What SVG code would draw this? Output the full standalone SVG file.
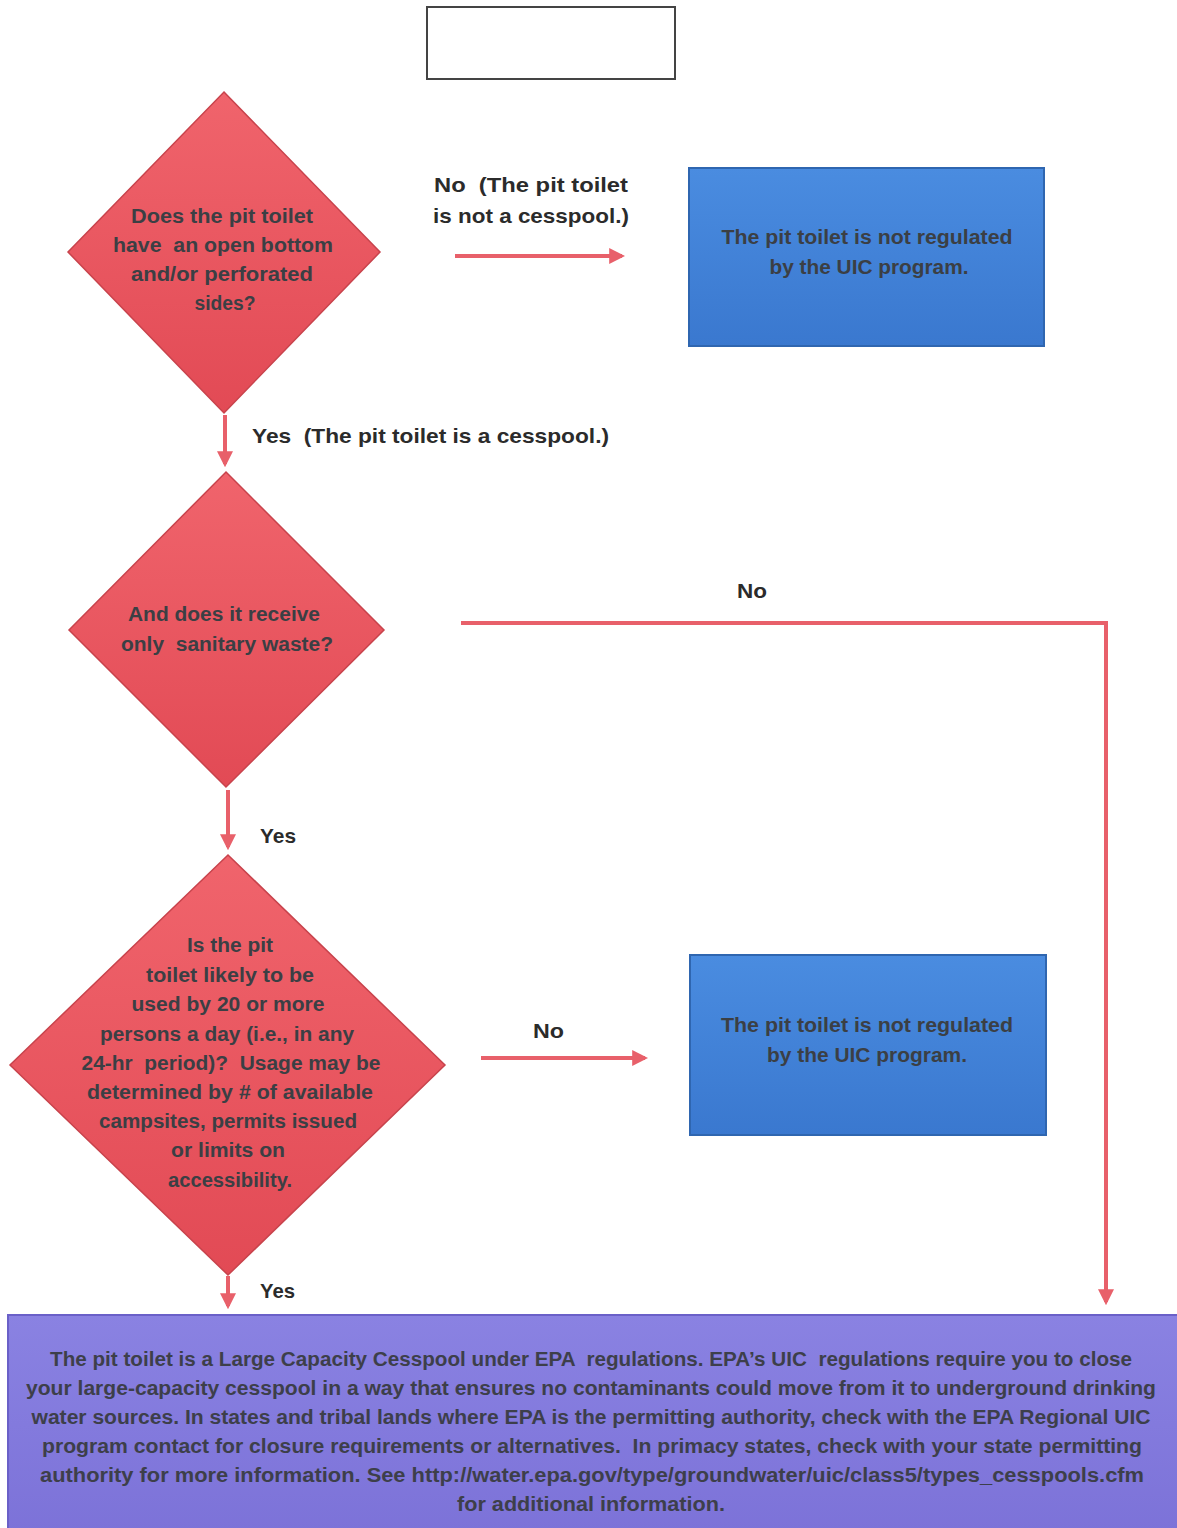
<svg xmlns="http://www.w3.org/2000/svg" width="1177" height="1528" viewBox="0 0 1177 1528">
<style>
.dt{font-family:"Liberation Sans",Arial,sans-serif;font-size:20px;font-weight:bold;fill:#3b3f44;text-anchor:middle}
.bt{font-family:"Liberation Sans",Arial,sans-serif;font-size:20px;font-weight:bold;fill:#3b3f44;text-anchor:middle}
.lb{font-family:"Liberation Sans",Arial,sans-serif;font-size:21px;font-weight:bold;fill:#2b2b2b}
.pt{font-family:"Liberation Sans",Arial,sans-serif;font-size:20px;font-weight:bold;fill:#3d3f4a;text-anchor:middle}
.conn{stroke:#e8606a;stroke-width:4;fill:none}
.dia{fill:url(#red);stroke:#c8434c;stroke-width:1.5}
.blue{fill:url(#blu);stroke:#2f66b0;stroke-width:2}
</style>
<defs>
<linearGradient id="red" x1="0" y1="0" x2="0" y2="1">
<stop offset="0" stop-color="#f0646c"/><stop offset="1" stop-color="#e24a55"/>
</linearGradient>
<linearGradient id="blu" x1="0" y1="0" x2="0" y2="1">
<stop offset="0" stop-color="#4a8ce0"/><stop offset="1" stop-color="#3a78cf"/>
</linearGradient>
<linearGradient id="pur" x1="0" y1="0" x2="0" y2="1">
<stop offset="0" stop-color="#8a82e2"/><stop offset="1" stop-color="#7c72d8"/>
</linearGradient>
<marker id="ah" markerWidth="4" markerHeight="4" refX="3.2" refY="2" orient="auto" markerUnits="strokeWidth">
<path d="M0,0 L4,2 L0,4 z" fill="#e8606a"/>
</marker>
</defs>
<rect width="1177" height="1528" fill="#ffffff"/>

<g id="title-box">
<rect x="427" y="7" width="248" height="72" fill="#ffffff" stroke="#444" stroke-width="2"/>
</g>

<g id="connectors">
<line class="conn" x1="455" y1="256" x2="622" y2="256" marker-end="url(#ah)"/>
<line class="conn" x1="225" y1="415" x2="225" y2="464" marker-end="url(#ah)"/>
<polyline class="conn" points="461,623 1106,623 1106,1302" marker-end="url(#ah)"/>
<line class="conn" x1="228" y1="790" x2="228" y2="847" marker-end="url(#ah)"/>
<line class="conn" x1="481" y1="1058" x2="645" y2="1058" marker-end="url(#ah)"/>
<line class="conn" x1="228" y1="1276" x2="228" y2="1306" marker-end="url(#ah)"/>
<text class="lb" x="434" y="192" xml:space="preserve" textLength="194" lengthAdjust="spacingAndGlyphs">No  (The pit toilet</text>
<text class="lb" x="433" y="223" textLength="196" lengthAdjust="spacingAndGlyphs">is not a cesspool.)</text>
<text class="lb" x="252" y="443" xml:space="preserve" textLength="357" lengthAdjust="spacingAndGlyphs">Yes  (The pit toilet is a cesspool.)</text>
<text class="lb" x="737" y="598" textLength="30" lengthAdjust="spacingAndGlyphs">No</text>
<text class="lb" x="260" y="843" textLength="36" lengthAdjust="spacingAndGlyphs">Yes</text>
<text class="lb" x="533" y="1038" textLength="31" lengthAdjust="spacingAndGlyphs">No</text>
<text class="lb" x="260" y="1298" textLength="35" lengthAdjust="spacingAndGlyphs">Yes</text>
</g>

<g id="q1">
<polygon class="dia" points="224,92 380,252 224,413 68,252"/>
<text class="dt" x="222" y="223" textLength="182" lengthAdjust="spacingAndGlyphs">Does the pit toilet</text>
<text class="dt" x="223" y="252" xml:space="preserve" textLength="220" lengthAdjust="spacingAndGlyphs">have  an open bottom</text>
<text class="dt" x="222" y="281" textLength="182" lengthAdjust="spacingAndGlyphs">and/or perforated</text>
<text class="dt" x="225" y="310" textLength="61" lengthAdjust="spacingAndGlyphs">sides?</text>
</g>

<g id="notreg1">
<rect class="blue" x="689" y="168" width="355" height="178"/>
<text class="bt" x="867" y="244" textLength="291" lengthAdjust="spacingAndGlyphs">The pit toilet is not regulated</text>
<text class="bt" x="869" y="274" textLength="199" lengthAdjust="spacingAndGlyphs">by the UIC program.</text>
</g>

<g id="q2">
<polygon class="dia" points="226,472 384,630 226,787 69,630"/>
<text class="dt" x="224" y="621" textLength="192" lengthAdjust="spacingAndGlyphs">And does it receive</text>
<text class="dt" x="227" y="651" xml:space="preserve" textLength="212" lengthAdjust="spacingAndGlyphs">only  sanitary waste?</text>
</g>

<g id="q3">
<polygon class="dia" points="228,855 445,1065 228,1275 10,1065"/>
<text class="dt" x="230" y="952" textLength="86" lengthAdjust="spacingAndGlyphs">Is the pit</text>
<text class="dt" x="230" y="982" textLength="168" lengthAdjust="spacingAndGlyphs">toilet likely to be</text>
<text class="dt" x="228" y="1011" textLength="193" lengthAdjust="spacingAndGlyphs">used by 20 or more</text>
<text class="dt" x="227" y="1041" textLength="254" lengthAdjust="spacingAndGlyphs">persons a day (i.e., in any</text>
<text class="dt" x="231" y="1070" xml:space="preserve" textLength="299" lengthAdjust="spacingAndGlyphs">24-hr  period)?  Usage may be</text>
<text class="dt" x="230" y="1099" textLength="286" lengthAdjust="spacingAndGlyphs">determined by # of available</text>
<text class="dt" x="228" y="1128" textLength="258" lengthAdjust="spacingAndGlyphs">campsites, permits issued</text>
<text class="dt" x="228" y="1157" textLength="114" lengthAdjust="spacingAndGlyphs">or limits on</text>
<text class="dt" x="230" y="1187" textLength="124" lengthAdjust="spacingAndGlyphs">accessibility.</text>
</g>

<g id="notreg2">
<rect class="blue" x="690" y="955" width="356" height="180"/>
<text class="bt" x="867" y="1032" textLength="292" lengthAdjust="spacingAndGlyphs">The pit toilet is not regulated</text>
<text class="bt" x="867" y="1062" textLength="200" lengthAdjust="spacingAndGlyphs">by the UIC program.</text>
</g>

<g id="lcc">
<rect x="8" y="1315" width="1175" height="220" fill="url(#pur)" stroke="#6a60c8" stroke-width="2"/>
<text class="pt" x="591" y="1366" xml:space="preserve" textLength="1082" lengthAdjust="spacingAndGlyphs">The pit toilet is a Large Capacity Cesspool under EPA  regulations. EPA’s UIC  regulations require you to close</text>
<text class="pt" x="591" y="1395" textLength="1130" lengthAdjust="spacingAndGlyphs">your large-capacity cesspool in a way that ensures no contaminants could move from it to underground drinking</text>
<text class="pt" x="591" y="1424" textLength="1119" lengthAdjust="spacingAndGlyphs">water sources. In states and tribal lands where EPA is the permitting authority, check with the EPA Regional UIC</text>
<text class="pt" x="592" y="1453" xml:space="preserve" textLength="1100" lengthAdjust="spacingAndGlyphs">program contact for closure requirements or alternatives.  In primacy states, check with your state permitting</text>
<text class="pt" x="592" y="1482" textLength="1104" lengthAdjust="spacingAndGlyphs">authority for more information. See http://water.epa.gov/type/groundwater/uic/class5/types_cesspools.cfm</text>
<text class="pt" x="591" y="1511" textLength="268" lengthAdjust="spacingAndGlyphs">for additional information.</text>
</g>
</svg>
